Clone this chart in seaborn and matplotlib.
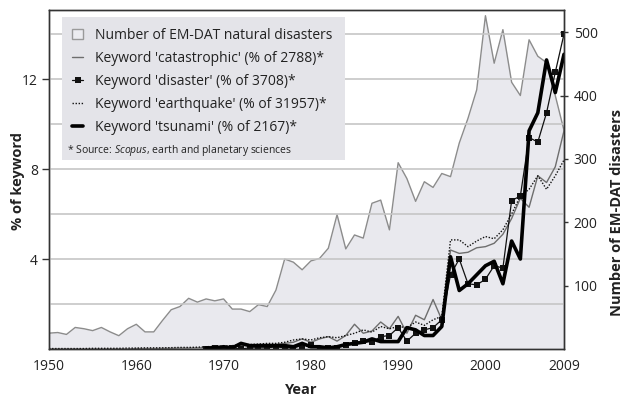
import numpy as np
import pandas as pd
import matplotlib
matplotlib.use('agg')
import matplotlib.pyplot as plt
from matplotlib.patches import Patch, Rectangle
from matplotlib.lines import Line2D
import seaborn as sns

sns.set_style("white")
plt.rcParams['font.family'] = ['Open Sans', 'DejaVu Sans']
plt.rcParams['mathtext.fontset'] = 'custom'
plt.rcParams['mathtext.rm'] = 'Open Sans'
plt.rcParams['mathtext.it'] = 'Open Sans:italic'

years = list(range(1950, 2010))

# number of EM-DAT natural disasters (right axis)
emdat = [25, 26, 23, 34, 32, 29, 34, 27, 21, 32,
         39, 27, 27, 45, 62, 67, 80, 74, 79, 76,
         79, 63, 63, 59, 70, 67, 93, 142, 137, 125,
         139, 143, 159, 212, 158, 180, 175, 230, 235, 188,
         294, 269, 233, 264, 255, 277, 272, 325, 364, 409,
         526, 451, 504, 421, 400, 488, 462, 452, 400, 345]

# % of keyword (left axis)
catastrophic = [0, 0, 0, 0, 0, 0, 0, 0, 0, 0,
                0.02, 0.02, 0.02, 0.03, 0.03, 0.04, 0.04, 0.05, 0.05, 0.1,
                0.1, 0.1, 0.15, 0.15, 0.2, 0.2, 0.2, 0.25, 0.3, 0.45,
                0.3, 0.45, 0.55, 0.35, 0.6, 1.1, 0.7, 0.8, 1.2, 0.9,
                1.45, 0.7, 1.5, 1.3, 2.2, 1.3, 4.4, 4.25, 4.3, 4.5,
                4.55, 4.7, 5.1, 5.8, 6.7, 6.3, 7.7, 7.4, 8.1, 9.7]

earthquake = [0.02, 0.02, 0.02, 0.02, 0.02, 0.03, 0.03, 0.03, 0.03, 0.04,
              0.04, 0.05, 0.05, 0.05, 0.06, 0.07, 0.07, 0.08, 0.1, 0.12,
              0.12, 0.15, 0.2, 0.2, 0.22, 0.25, 0.25, 0.3, 0.4, 0.45,
              0.4, 0.5, 0.55, 0.5, 0.6, 0.7, 0.85, 0.75, 1.0, 0.9,
              1.0, 0.95, 1.2, 1.05, 1.3, 1.45, 4.85, 4.85, 4.55, 4.8,
              5.0, 4.9, 5.3, 6.0, 6.8, 7.1, 7.7, 7.1, 7.7, 8.4]

disaster = [np.nan] * 18 + [0.0, 0.05,
            0.0, 0.05, 0.0, 0.05, 0.05, 0.05, 0.1, 0.05, 0.05, 0.15,
            0.2, 0.0, 0.05, 0.05, 0.2, 0.25, 0.35, 0.3, 0.55, 0.6,
            0.95, 0.35, 0.7, 0.85, 0.95, 1.3, 3.3, 4.0, 2.9, 2.85,
            3.1, 3.7, 3.6, 6.6, 6.8, 9.4, 9.2, 10.5, 12.3, 14.0]

tsunami = [np.nan] * 18 + [0.05, 0.05,
           0.1, 0.05, 0.25, 0.15, 0.15, 0.15, 0.15, 0.15, 0.1, 0.25,
           0.1, 0.1, 0.05, 0.1, 0.2, 0.25, 0.3, 0.45, 0.33, 0.33,
           0.33, 0.95, 0.85, 0.6, 0.6, 1.0, 4.1, 2.6, 2.9, 3.3,
           3.7, 3.9, 2.9, 4.8, 4.0, 9.7, 10.5, 12.85, 11.4, 13.1]

df = pd.DataFrame({'year': years, 'emdat': emdat, 'catastrophic': catastrophic,
                   'earthquake': earthquake, 'disaster': disaster, 'tsunami': tsunami})

fig = plt.figure(figsize=(6.27, 4.01), dpi=100)
ax = fig.add_axes([49/627, 1-349/401, 515/627, 339/401])
ax2 = ax.twinx()

# background area on the right axis
fill_col = '#e9e9ee'
ax2.fill_between(df['year'], 0, df['emdat'], color=fill_col, lw=0)
sns.lineplot(data=df, x='year', y='emdat', ax=ax2, color='#8c8c8c', lw=1.0)
ax2.set_ylim(0, 535)
ax2.set_yticks([100, 200, 300, 400, 500])
ax2.set_ylabel('')

# keyword lines on the left axis, drawn on top
ax.set_zorder(ax2.get_zorder() + 1)
ax.patch.set_visible(False)
sns.lineplot(data=df, x='year', y='catastrophic', ax=ax, color='#6e6e6e', lw=1.0)
sns.lineplot(data=df, x='year', y='earthquake', ax=ax, color='#111111', lw=1.0, ls=(0, (1, 1.2)))
sns.lineplot(data=df, x='year', y='disaster', ax=ax, color='#111111', lw=0.9,
             marker='s', markersize=4.6, markeredgewidth=0)
sns.lineplot(data=df, x='year', y='tsunami', ax=ax, color='#000000', lw=2.6)

ax.set_xlim(1950, 2009)
ax.set_ylim(0, 15.07)
ax.set_yticks([4, 8, 12])
ax.set_yticks([2, 6, 10, 14], minor=True)
ax.grid(axis='y', which='both', color='#c6c6c6', lw=1.2)
ax.set_xticks([1950, 1960, 1970, 1980, 1990, 2000, 2009])
ax.set_xlabel('')
ax.set_ylabel('')

for a in (ax, ax2):
    for s in a.spines.values():
        s.set_color('#333333')
        s.set_linewidth(1.0)
ax.tick_params(axis='y', which='major', length=5, width=1, color='#333333',
               labelsize=10, labelcolor='#222222', pad=3)
ax.tick_params(axis='y', which='minor', length=0)
ax.tick_params(axis='x', length=4, width=1, color='#333333', direction='inout',
               labelsize=10, labelcolor='#222222', pad=5)
ax2.tick_params(axis='y', length=6, width=1, color='#333333', direction='inout',
                labelsize=10, labelcolor='#222222', pad=4)

# legend box
ax.add_patch(Rectangle((0.0252, 0.558), 0.5495, 0.4218, transform=ax.transAxes,
                       facecolor='#e4e4e9', edgecolor='none', zorder=5))
handles = [Patch(facecolor='#ececf0', edgecolor='#9a9a9a', lw=1),
           Line2D([], [], color='#6e6e6e', lw=1.0),
           Line2D([], [], color='#111111', lw=0.9, marker='s', markersize=4.6, markeredgewidth=0),
           Line2D([], [], color='#111111', lw=1.0, ls=(0, (1, 1.2))),
           Line2D([], [], color='#000000', lw=2.6)]
labels = ['Number of EM-DAT natural disasters',
          "Keyword 'catastrophic' (% of 2788)*",
          "Keyword 'disaster' (% of 3708)*",
          "Keyword 'earthquake' (% of 31957)*",
          "Keyword 'tsunami' (% of 2167)*"]
leg = ax.legend(handles, labels, loc='upper left', bbox_to_anchor=(0.044, 0.947),
                frameon=False, fontsize=10, borderpad=0, borderaxespad=0,
                handlelength=0.85, handletextpad=0.85, labelspacing=0.58)
leg.set_zorder(6)
for t in leg.get_texts():
    t.set_color('#222222')
ax.text(0.035, 0.587, '* Source: $\\mathit{Scopus}$, earth and planetary sciences',
        transform=ax.transAxes, fontsize=7.5, color='#222222', va='center', zorder=7)

fig.text(18/627, 1-181/401, '% of keyword', rotation=90, ha='center', va='center',
         fontsize=10.5, fontweight='bold', color='#222222')
fig.text(617/627, 1-212/401, 'Number of EM-DAT disasters', rotation=90, ha='center',
         va='center', fontsize=10.5, fontweight='bold', color='#222222')
fig.text(301/627, 1-390/401, 'Year', ha='center', va='center',
         fontsize=10.5, fontweight='bold', color='#222222')

fig.savefig('out.png', dpi=100)
